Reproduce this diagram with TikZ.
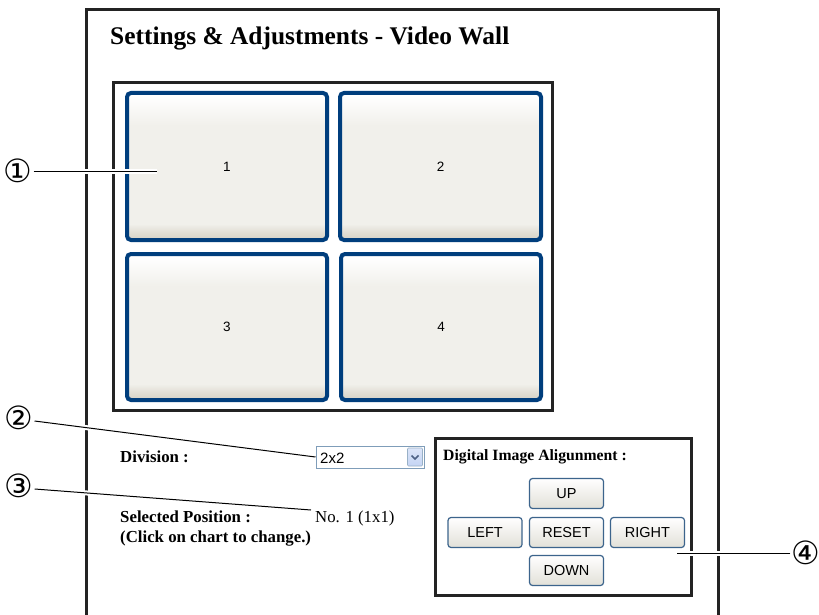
\documentclass[tikz,border=0pt]{standalone}
\usepackage{fontspec}
\setmainfont{Liberation Serif}
\newfontfamily\sansf{Liberation Sans}
\newfontfamily\symf{DejaVu Sans}
\definecolor{framec}{RGB}{35,35,35}
\definecolor{tileblue}{RGB}{0,62,125}
\definecolor{tilemid}{RGB}{241,240,235}
\definecolor{tilebot}{RGB}{214,209,196}
\definecolor{btnblue}{RGB}{60,100,140}
\definecolor{btnbot}{RGB}{226,224,216}
\definecolor{ddborder}{RGB}{127,157,185}
\definecolor{ddbtn}{RGB}{196,212,244}
\definecolor{ddarrow}{RGB}{77,97,133}
\pgfdeclareverticalshading{tileshade}{100bp}{color(0bp)=(tilebot); color(25bp)=(tilebot); color(28bp)=(tilebot!50!tilemid); color(30.5bp)=(tilemid); color(64bp)=(tilemid); color(74bp)=(white); color(100bp)=(white)}
\begin{document}
\begin{tikzpicture}[x=1pt,y=-1pt,
  frame/.style={draw=framec, line width=3pt},
  tile/.style={draw=tileblue, line width=4pt, rounded corners=4pt,
    shading=tileshade,
    inner sep=0pt, font=\sansf\fontsize{13.5}{15}\selectfont},
  btn/.style={draw=btnblue, line width=1.2pt, rounded corners=3pt,
    top color=white, bottom color=btnbot, minimum width=74pt,
    minimum height=30pt, inner sep=0pt, font=\sansf\fontsize{14.5}{16}\selectfont},
  num/.style={font=\symf\fontsize{32}{34}\selectfont, inner sep=0pt},
  lbl/.style={font=\bfseries\fontsize{16.8}{19}\selectfont, inner sep=0pt},
  leader/.style={draw=black, line width=1pt, preaction={draw=white, line width=5pt}}
]
\useasboundingbox (0,0) rectangle (819,615);
\fill[white] (0,0) rectangle (819,615);
% outer frame (open at the bottom)
\draw[frame] (86,615) -- (86,10) -- (718,10) -- (718,615);
% title
\node[anchor=base west, font=\bfseries\fontsize{25.4}{28}\selectfont, inner sep=0pt] (title) at (110,45) {Settings \& Adjustments - Video Wall};
% chart frame
\draw[frame] (113,83) rectangle (552,410);
\node[tile, minimum width=200pt, minimum height=147pt] (t1) at (227,166.5) {1};
\node[tile, minimum width=201pt, minimum height=147pt] (t2) at (440.5,166.5) {2};
\node[tile, minimum width=200pt, minimum height=146pt] (t3) at (227,327) {3};
\node[tile, minimum width=200pt, minimum height=146pt] (t4) at (441,327) {4};
% division
\node[lbl, anchor=base west] (div) at (120,462) {Division :};
\node[draw=ddborder, line width=1pt, fill=white, minimum width=108pt, minimum height=22pt, inner sep=0pt] (dd) at (370,457) {};
\node[anchor=base west, inner sep=0pt, font=\sansf\fontsize{15}{17}\selectfont] (ddtxt) at (320,463) {2x2};
\node[draw=ddborder!80, line width=0.6pt, top color=white!40!ddbtn, bottom color=ddbtn, minimum width=15pt, minimum height=18pt, inner sep=0pt, rounded corners=1pt] (ddb) at (415,457) {};
\draw[ddarrow, line width=1.6pt] ([shift={(-3.5,-1.5)}]ddb.center) -- ([shift={(0,2)}]ddb.center) -- ([shift={(3.5,-1.5)}]ddb.center);
% selected position
\node[lbl, anchor=base west] (selpos) at (120,522) {Selected Position :};
\node[lbl, anchor=base west] (click) at (120,542) {(Click on chart to change.)};
\node[anchor=base west, inner sep=0pt, font=\fontsize{16.8}{19}\selectfont] (pos) at (315,522) {No. 1 (1x1)};
% alignment box
\draw[frame] (435,438) rectangle (691,595);
\node[anchor=base west, inner sep=0pt, font=\bfseries\fontsize{15.7}{18}\selectfont] (dia) at (443,460) {Digital Image Aligunment :};
\node[btn] (up) at (566.5,493.5) {UP};
\node[btn] (left) at (485,532.5) {LEFT};
\node[btn] (reset) at (566.5,532.5) {RESET};
\node[btn] (right) at (647.5,532.5) {RIGHT};
\node[btn] (down) at (566.5,570.5) {DOWN};
% callout numbers
\node[num] (n1) at (18,171) {①};
\node[num] (n2) at (19,418) {②};
\node[num] (n3) at (19,486) {③};
\node[num] (n4) at (806,553) {④};
\coordinate (p1) at (157,171);
\coordinate (p3) at (311,510);
\coordinate (p4) at (677,553);
\draw[leader] ([xshift=1pt]n1.east) -- (p1);
\draw[leader] ([xshift=1pt,yshift=-3pt]n2.east) -- (dd.west);
\draw[leader] ([xshift=1pt,yshift=-3pt]n3.east) -- (p3);
\draw[leader] ([xshift=-1pt]n4.west) -- (p4);
\end{tikzpicture}
\end{document}
